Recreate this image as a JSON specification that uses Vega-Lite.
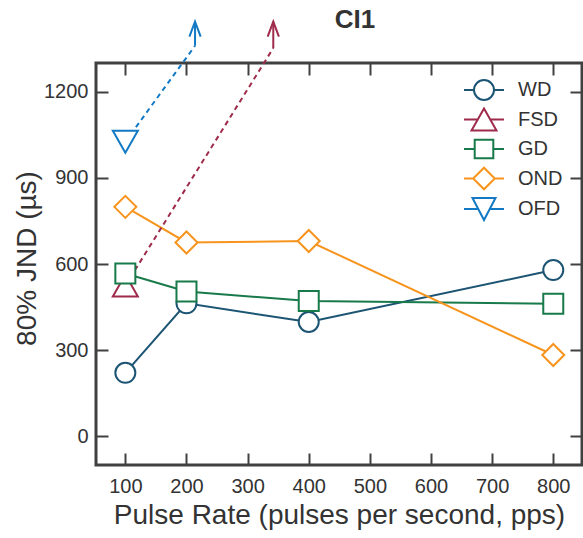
{
  "$schema": "https://vega.github.io/schema/vega-lite/v6.json",
  "width": 486,
  "height": 402,
  "autosize": {"type": "none"},
  "padding": {"left": 96, "top": 63, "right": 1, "bottom": 73},
  "title": {"text": "CI1", "fontSize": 26, "fontWeight": "bold", "font": "Liberation Sans", "color": "#333333", "anchor": "middle", "frame": "group", "dx": 16, "dy": 27, "offset": -9, "baseline": "alphabetic"},
  "config": {"view": {"stroke": "#404040", "strokeWidth": 3}, "font": "Liberation Sans"},
  "datasets": {
    "main": [
      {"series": "WD", "x": 100, "y": 221}, {"series": "WD", "x": 200, "y": 463}, {"series": "WD", "x": 400, "y": 398}, {"series": "WD", "x": 800, "y": 579},
      {"series": "FSD", "x": 100, "y": 525},
      {"series": "GD", "x": 100, "y": 567}, {"series": "GD", "x": 200, "y": 504}, {"series": "GD", "x": 400, "y": 471}, {"series": "GD", "x": 800, "y": 462},
      {"series": "OND", "x": 100, "y": 799}, {"series": "OND", "x": 200, "y": 675}, {"series": "OND", "x": 400, "y": 680}, {"series": "OND", "x": 800, "y": 283},
      {"series": "OFD", "x": 100, "y": 1026}
    ],
    "dashed": [
      {"series": "FSD", "x": 100, "y": 525}, {"series": "FSD", "x": 342, "y": 1352},
      {"series": "OFD", "x": 100, "y": 1026}, {"series": "OFD", "x": 214, "y": 1360}
    ],
    "arrows": [
      {"series": "FSD", "x": 342, "ybase": 1352, "ytip": 1444, "yhead": 1418},
      {"series": "OFD", "x": 214, "ybase": 1360, "ytip": 1444, "yhead": 1418}
    ]
  },
  "resolve": {"axis": {"x": "independent", "y": "independent"}},
  "layer": [
    {
      "data": {"name": "main"},
      "transform": [{"filter": "datum.series === 'WD' || datum.series === 'GD' || datum.series === 'OND'"}],
      "mark": {"type": "line", "strokeWidth": 2},
      "encoding": {
        "x": {"field": "x", "type": "quantitative", "scale": {"domain": [52, 847], "nice": false, "zero": false},
              "axis": {"orient": "bottom", "values": [100, 200, 300, 400, 500, 600, 700, 800], "format": "d", "domain": false, "grid": false, "tickSize": -12, "tickWidth": 2, "tickColor": "#404040", "labelFontSize": 20, "labelColor": "#333333", "labelPadding": 23, "title": "Pulse Rate (pulses per second, pps)", "titleFontSize": 28, "titleFontWeight": "normal", "titleColor": "#333333", "titlePadding": 5}},
        "y": {"field": "y", "type": "quantitative", "scale": {"domain": [-100, 1300], "nice": false, "zero": false},
              "axis": {"orient": "left", "values": [0, 300, 600, 900, 1200], "format": "d", "domain": false, "grid": false, "tickSize": -12, "tickWidth": 2, "tickColor": "#404040", "labelFontSize": 20, "labelColor": "#333333", "labelPadding": 20, "title": "80% JND (µs)", "titleFontSize": 28, "titleFontWeight": "normal", "titleColor": "#333333", "titlePadding": 2, "titleY": 195}},
        "stroke": {"field": "series", "type": "nominal", "scale": {"domain": ["WD", "FSD", "GD", "OND", "OFD"], "range": ["#1c5473", "#9e2b4b", "#187a4a", "#f7941d", "#1379c4"]},
                   "legend": {"orient": "none", "legendX": 377, "legendY": 16, "title": null, "symbolSize": 400, "symbolStrokeWidth": 2, "symbolFillColor": "white", "labelFontSize": 20, "labelColor": "#333333", "labelFont": "Liberation Sans", "labelOffset": 23, "rowPadding": 0.5, "padding": 0,
                              "encode": {"symbols": {"update": {"fill": {"value": "white"}, "strokeWidth": {"value": 2}, "shape": {"signal": "datum.value === 'WD' ? 'M-2,0L-1,0M1,0L2,0M1,0A1,1,0,1,1,-1,0A1,1,0,1,1,1,0Z' : datum.value === 'FSD' ? 'M-2,0L-0.63,0M0.63,0L2,0M0,-1.1L1.25,1.1L-1.25,1.1Z' : datum.value === 'GD' ? 'M-2,0L-0.93,0M0.93,0L2,0M-0.93,-0.93L0.93,-0.93L0.93,0.93L-0.93,0.93Z' : datum.value === 'OND' ? 'M-2,0L-1.08,0M1.08,0L2,0M0,-1.08L1.08,0L0,1.08L-1.08,0Z' : 'M-2,0L-0.58,0M0.58,0L2,0M-1.15,-1.1L1.15,-1.1L0,1.1Z'"}}}}}
        }
      }
    },
    {
      "data": {"name": "dashed"},
      "mark": {"type": "line", "strokeWidth": 2, "strokeDash": [5, 4]},
      "encoding": {
        "x": {"field": "x", "type": "quantitative", "axis": null},
        "y": {"field": "y", "type": "quantitative", "axis": null},
        "stroke": {"field": "series", "type": "nominal"}
      }
    },
    {
      "data": {"name": "arrows"},
      "mark": {"type": "rule", "strokeWidth": 2},
      "encoding": {
        "x": {"field": "x", "type": "quantitative", "axis": null},
        "y": {"field": "ybase", "type": "quantitative", "axis": null},
        "y2": {"field": "ytip"},
        "stroke": {"field": "series", "type": "nominal"}
      }
    },
    {
      "data": {"name": "arrows"},
      "mark": {"type": "point", "shape": "M-0.75,1L0,-1L0.75,1", "filled": false, "strokeWidth": 2, "size": 225, "opacity": 1},
      "encoding": {
        "x": {"field": "x", "type": "quantitative", "axis": {"orient": "top", "values": [100, 200, 300, 400, 500, 600, 700, 800], "domain": false, "grid": false, "labels": false, "title": null, "tickSize": -12, "tickWidth": 2, "tickColor": "#404040"}},
        "y": {"field": "yhead", "type": "quantitative", "axis": {"orient": "right", "values": [0, 300, 600, 900, 1200], "domain": false, "grid": false, "labels": false, "title": null, "tickSize": -12, "tickWidth": 2, "tickColor": "#404040"}},
        "stroke": {"field": "series", "type": "nominal"}
      }
    },
    {
      "data": {"name": "main"},
      "transform": [{"filter": "datum.series === 'WD'"}],
      "mark": {"type": "point", "shape": "M1,0A1,1,0,1,1,-1,0A1,1,0,1,1,1,0Z", "filled": false, "strokeWidth": 2, "size": 400, "opacity": 1},
      "encoding": {
        "x": {"field": "x", "type": "quantitative", "axis": null},
        "y": {"field": "y", "type": "quantitative", "axis": null},
        "fill": {"value": "white"},
        "stroke": {"field": "series", "type": "nominal"}
      }
    },
    {
      "data": {"name": "main"},
      "transform": [{"filter": "datum.series === 'FSD'"}],
      "mark": {"type": "point", "shape": "M0,-1.1L1.25,1.1L-1.25,1.1Z", "filled": false, "strokeWidth": 2, "size": 400, "opacity": 1},
      "encoding": {
        "x": {"field": "x", "type": "quantitative", "axis": null},
        "y": {"field": "y", "type": "quantitative", "axis": null},
        "fill": {"value": "white"},
        "stroke": {"field": "series", "type": "nominal"}
      }
    },
    {
      "data": {"name": "main"},
      "transform": [{"filter": "datum.series === 'GD'"}],
      "mark": {"type": "point", "shape": "M-1,-1L1,-1L1,1L-1,1Z", "filled": false, "strokeWidth": 2, "size": 400, "opacity": 1},
      "encoding": {
        "x": {"field": "x", "type": "quantitative", "axis": null},
        "y": {"field": "y", "type": "quantitative", "axis": null},
        "fill": {"value": "white"},
        "stroke": {"field": "series", "type": "nominal"}
      }
    },
    {
      "data": {"name": "main"},
      "transform": [{"filter": "datum.series === 'OND'"}],
      "mark": {"type": "point", "shape": "M0,-1.1L1.1,0L0,1.1L-1.1,0Z", "filled": false, "strokeWidth": 2, "size": 400, "opacity": 1},
      "encoding": {
        "x": {"field": "x", "type": "quantitative", "axis": null},
        "y": {"field": "y", "type": "quantitative", "axis": null},
        "fill": {"value": "white"},
        "stroke": {"field": "series", "type": "nominal"}
      }
    },
    {
      "data": {"name": "main"},
      "transform": [{"filter": "datum.series === 'OFD'"}],
      "mark": {"type": "point", "shape": "M-1.25,-1.1L1.25,-1.1L0,1.1Z", "filled": false, "strokeWidth": 2, "size": 400, "opacity": 1},
      "encoding": {
        "x": {"field": "x", "type": "quantitative", "axis": null},
        "y": {"field": "y", "type": "quantitative", "axis": null},
        "fill": {"value": "white"},
        "stroke": {"field": "series", "type": "nominal"}
      }
    }
  ]
}
